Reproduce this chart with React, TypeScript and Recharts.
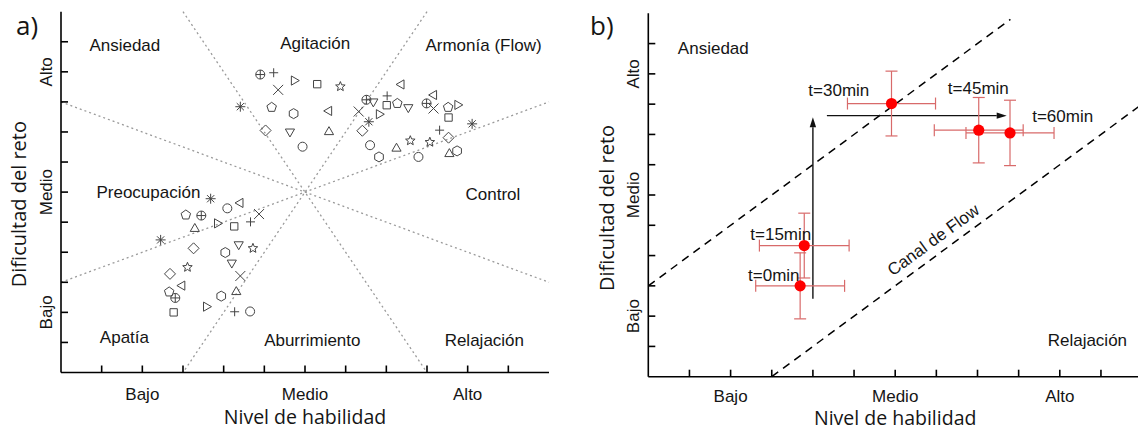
import React from "react";
import {
  ScatterChart,
  Scatter,
  XAxis,
  YAxis,
  ReferenceLine,
  ReferenceDot,
  ErrorBar,
  Label,
} from "recharts";

// shared axis scale: three qualitative levels on a 0..12 grid
const levelTicks = [1, 2, 3, 4, 5, 6, 7, 8, 9, 10, 11];
const levelValues = [2, 6, 10];
const levelNames = ["Bajo", "Medio", "Alto"];

// panel a) individual observations, one array per marker symbol [skill, challenge]
const circlePlusPts = [[4.9, 9.91], [7.51, 9.07], [8.99, 8.95], [3.45, 5.22], [2.81, 2.48]];
const plusPts = [[5.23, 9.97], [8.02, 9.2], [9.31, 8.06], [4.66, 5.01], [4.27, 2.02]];
const crossPts = [[5.34, 9.4], [7.32, 8.68], [9.16, 8.78], [4.87, 5.27], [4.41, 3.21]];
const triRightPts = [[5.73, 9.71], [7.82, 8.59], [9.75, 8.9], [3.84, 4.96], [3.57, 2.19]];
const squarePts = [[6.3, 9.59], [8.01, 8.89], [9.53, 8.48], [4.26, 4.86], [2.77, 2.0]];
const starPts = [[6.87, 9.51], [8.59, 7.71], [9.07, 7.66], [4.72, 4.13], [3.11, 3.5]];
const asteriskPts = [[4.41, 8.84], [7.57, 8.34], [10.11, 8.27], [3.68, 5.78], [2.45, 4.41]];
const pentagonPts = [[5.18, 8.82], [8.27, 8.95], [9.52, 8.82], [3.07, 5.24], [2.66, 2.68]];
const hexagonPts = [[5.72, 8.61], [7.82, 7.17], [9.74, 7.37], [4.04, 3.99], [3.94, 2.54]];
const triLeftPts = [[6.59, 8.7], [8.37, 9.58], [9.17, 9.23], [4.41, 5.64], [2.98, 2.89]];
const diamondPts = [[5.03, 8.05], [7.41, 8.04], [9.53, 7.81], [3.26, 4.13], [2.68, 3.28]];
const triDownPts = [[5.63, 8.01], [7.68, 9.01], [8.54, 8.82], [4.37, 4.26], [4.2, 3.65]];
const triUpPts = [[6.59, 8.0], [8.25, 7.45], [9.55, 7.27], [3.29, 4.78], [4.31, 2.68]];
const circlePts = [[5.94, 7.51], [7.6, 7.56], [8.79, 7.17], [4.09, 5.46], [4.65, 2.03]];

// panel a) region names and where they sit
const regionNamesA = ["Ansiedad", "Agitación", "Armonía (Flow)", "Preocupación", "Control", "Apatía", "Aburrimiento", "Relajación"];
const regionSkillA = [1.57, 6.25, 10.39, 2.15, 10.62, 1.56, 6.18, 10.41];
const regionChallengeA = [10.86, 10.95, 10.87, 5.98, 5.93, 1.17, 1.08, 1.08];

// panel a) the four sector boundaries through the centre
const sectorLines = [
  [[0, 9], [12, 3]],
  [[0, 3], [12, 9]],
  [[3, 12], [9, 0]],
  [[9, 12], [3, 0]],
];

// panel b) group means with error
const timeLabels = ["t=0min", "t=15min", "t=30min", "t=45min", "t=60min"];
const skillMean = [3.69, 3.79, 5.91, 8.03, 8.79];
const challengeMean = [3.0, 4.33, 9.02, 8.14, 8.05];
const skillErr = [1.08, 1.09, 1.07, 1.08, 1.07];
const challengeErr = [1.09, 1.07, 1.07, 1.08, 1.08];
const timeLabelSkill = [3.05, 3.22, 4.63, 8.02, 10.07];
const timeLabelChallenge = [3.33, 4.68, 9.45, 9.52, 8.59];

const regionNamesB = ["Ansiedad", "Relajación"];
const regionSkillB = [1.58, 10.67];
const regionChallengeB = [10.85, 1.18];

const channelLines = [
  [[0, 3], [8.8, 11.8]],
  [[3, 0], [12, 9]],
];
const arrows = [
  [[4.0, 2.57], [4.0, 8.57]],
  [[4.34, 8.62], [8.71, 8.62]],
];

const plainFont = '"Liberation Sans", Arial, sans-serif';
const titleFont = '"Open Sans", "Liberation Sans", sans-serif';
const ink = "#151515";
const markerInk = "#444";

const levelName = (v: number) => {
  const i = levelValues.indexOf(v);
  return i >= 0 ? levelNames[i] : "";
};

const BottomTick = (p: any) => {
  const name = levelName(p.payload.value);
  if (!name) return <g />;
  return (
    <text x={p.x} y={p.y} textAnchor="middle" dominantBaseline="central" fontFamily={plainFont} fontSize={17} fill={ink}>
      {name}
    </text>
  );
};

const LeftTick = (p: any) => {
  const name = levelName(p.payload.value);
  if (!name) return <g />;
  return (
    <text
      x={p.x}
      y={p.y}
      transform={`rotate(-90, ${p.x}, ${p.y})`}
      textAnchor="middle"
      dominantBaseline="central"
      fontFamily={plainFont}
      fontSize={17}
      fill={ink}
    >
      {name}
    </text>
  );
};

const polyPoints = (cx: number, cy: number, n: number, r: number, startDeg: number) =>
  Array.from({ length: n }, (_, i) => {
    const a = ((startDeg + (360 / n) * i) * Math.PI) / 180;
    return `${cx + r * Math.cos(a)},${cy + r * Math.sin(a)}`;
  }).join(" ");

const starPoints = (cx: number, cy: number, ro: number, ri: number) =>
  Array.from({ length: 10 }, (_, i) => {
    const a = ((-90 + 36 * i) * Math.PI) / 180;
    const r = i % 2 === 0 ? ro : ri;
    return `${cx + r * Math.cos(a)},${cy + r * Math.sin(a)}`;
  }).join(" ");

const markerShape = (kind: string) => (p: any) => {
  const { cx, cy } = p;
  const s = { fill: "none", stroke: markerInk, strokeWidth: 1 };
  switch (kind) {
    case "circle":
      return <circle cx={cx} cy={cy} r={4.5} {...s} />;
    case "circlePlus":
      return (
        <g {...s}>
          <circle cx={cx} cy={cy} r={4.5} />
          <path d={`M${cx - 4.5},${cy}H${cx + 4.5}M${cx},${cy - 4.5}V${cy + 4.5}`} />
        </g>
      );
    case "plus":
      return <path d={`M${cx - 4.5},${cy}H${cx + 4.5}M${cx},${cy - 4.5}V${cy + 4.5}`} {...s} />;
    case "cross":
      return <path d={`M${cx - 5},${cy - 5}L${cx + 5},${cy + 5}M${cx - 5},${cy + 5}L${cx + 5},${cy - 5}`} {...s} />;
    case "asterisk":
      return (
        <path
          d={`M${cx - 5},${cy}H${cx + 5}M${cx},${cy - 5}V${cy + 5}M${cx - 3.6},${cy - 3.6}L${cx + 3.6},${cy + 3.6}M${cx - 3.6},${cy + 3.6}L${cx + 3.6},${cy - 3.6}`}
          {...s}
        />
      );
    case "square":
      return <polygon points={polyPoints(cx, cy, 4, 5.2, 45)} {...s} />;
    case "diamond":
      return <polygon points={polyPoints(cx, cy, 4, 5.5, -90)} {...s} />;
    case "triUp":
      return <polygon points={polyPoints(cx, cy, 3, 5.3, -90)} {...s} />;
    case "triDown":
      return <polygon points={polyPoints(cx, cy, 3, 5.3, 90)} {...s} />;
    case "triLeft":
      return <polygon points={polyPoints(cx, cy, 3, 5.3, 180)} {...s} />;
    case "triRight":
      return <polygon points={polyPoints(cx, cy, 3, 5.3, 0)} {...s} />;
    case "pentagon":
      return <polygon points={polyPoints(cx, cy, 5, 5, -90)} {...s} />;
    case "hexagon":
      return <polygon points={polyPoints(cx, cy, 6, 5, -90)} {...s} />;
    case "star":
      return <polygon points={starPoints(cx, cy, 5, 2.2)} {...s} />;
    default:
      return <g />;
  }
};

const markerSets: [string, number[][]][] = [
  ["circlePlus", circlePlusPts],
  ["plus", plusPts],
  ["cross", crossPts],
  ["triRight", triRightPts],
  ["square", squarePts],
  ["star", starPts],
  ["asterisk", asteriskPts],
  ["pentagon", pentagonPts],
  ["hexagon", hexagonPts],
  ["triLeft", triLeftPts],
  ["diamond", diamondPts],
  ["triDown", triDownPts],
  ["triUp", triUpPts],
  ["circle", circlePts],
];

const textAt = (text: string, size = 17, rotate = 0) => (p: any) => (
  <text
    x={p.cx}
    y={p.cy}
    transform={rotate ? `rotate(${rotate}, ${p.cx}, ${p.cy})` : undefined}
    textAnchor="middle"
    dominantBaseline="central"
    fontFamily={plainFont}
    fontSize={size}
    fill={ink}
  >
    {text}
  </text>
);

const ArrowShape = (p: any) => {
  const { x1, y1, x2, y2 } = p;
  const ang = Math.atan2(y2 - y1, x2 - x1);
  const len = 10;
  const half = 3.2;
  const bx = x2 - len * Math.cos(ang);
  const by = y2 - len * Math.sin(ang);
  const pts = [
    [x2, y2],
    [bx + half * Math.sin(ang), by - half * Math.cos(ang)],
    [bx - half * Math.sin(ang), by + half * Math.cos(ang)],
  ]
    .map((q) => q.join(","))
    .join(" ");
  return (
    <g>
      <line x1={x1} y1={y1} x2={bx} y2={by} stroke="#111" strokeWidth={1.4} />
      <polygon points={pts} fill="#111" />
    </g>
  );
};

const axisStyle = { stroke: "#000", strokeWidth: 1.6 };

// frame axes (top + right) only carry inward ticks
const frameAxes = (key: string) => [
  <XAxis key={`${key}-t`} xAxisId="top" orientation="top" type="number" domain={[0, 12]} ticks={levelTicks} height={0} tickSize={-7} tick={false} allowDataOverflow {...axisStyle} />,
  <YAxis key={`${key}-r`} yAxisId="right" orientation="right" type="number" domain={[0, 12]} ticks={levelTicks} width={0} tickSize={-7} tick={false} allowDataOverflow {...axisStyle} />,
];

type PanelLayout = {
  width: number;
  plotLeft: number;
  plotTop: number;
  plotRight: number;
  plotBottom: number;
  yTickMargin: number;
  xTickMargin: number;
  xTitleDy: number;
  yTitleX: number;
  yTitleDy: number;
  letter: string;
  letterX: number;
};

const Axes = (L: PanelLayout) => [
  <XAxis
    key="x"
    type="number"
    dataKey="x"
    domain={[0, 12]}
    ticks={levelTicks}
    height={430 - L.plotBottom}
    tickSize={-7}
    tickMargin={L.xTickMargin}
    tick={BottomTick}
    allowDataOverflow
    {...axisStyle}
  >
    <Label
      content={(p: any) => {
        const vb = p.viewBox || {};
        return (
          <text x={vb.x + vb.width / 2} y={vb.y + L.xTitleDy} textAnchor="middle" dominantBaseline="central" fontFamily={titleFont} fontSize={19.5} fill={ink}>
            Nivel de habilidad
          </text>
        );
      }}
    />
  </XAxis>,
  <YAxis
    key="y"
    type="number"
    dataKey="y"
    domain={[0, 12]}
    ticks={levelTicks}
    width={L.plotLeft}
    tickSize={-7}
    tickMargin={L.yTickMargin}
    tick={LeftTick}
    allowDataOverflow
    {...axisStyle}
  >
    <Label
      content={(p: any) => {
        const vb = p.viewBox || {};
        const cx = vb.x + L.yTitleX;
        const cy = vb.y + vb.height / 2 + L.yTitleDy;
        return (
          <g>
            <text x={cx} y={cy} transform={`rotate(-90, ${cx}, ${cy})`} textAnchor="middle" dominantBaseline="central" fontFamily={titleFont} fontSize={20} fill={ink}>
              Dificultad del reto
            </text>
            <text x={vb.x + L.letterX} y={35} textAnchor="start" fontFamily={titleFont} fontSize={26} fill={ink}>
              {L.letter}
            </text>
          </g>
        );
      }}
    />
  </YAxis>,
];

const layoutA: PanelLayout = {
  width: 560,
  plotLeft: 61,
  plotTop: 11.7,
  plotRight: 549,
  plotBottom: 372.5,
  yTickMargin: 21.3,
  xTickMargin: 28.5,
  xTitleDy: 43.5,
  yTitleX: 19,
  yTitleDy: 12,
  letter: "a)",
  letterX: 16,
};

const layoutB: PanelLayout = {
  width: 560,
  plotLeft: 58.3,
  plotTop: 13.3,
  plotRight: 552.1,
  plotBottom: 376.7,
  yTickMargin: 22,
  xTickMargin: 26.4,
  xTitleDy: 41,
  yTitleX: 16,
  yTitleDy: 13,
  letter: "b)",
  letterX: 0,
};

function PanelA() {
  const L = layoutA;
  return (
    <ScatterChart width={L.width} height={430} margin={{ top: L.plotTop, right: L.width - L.plotRight, bottom: 0, left: 0 }}>
      {Axes(L)}
      {frameAxes("a")}
      {sectorLines.map((seg, i) => (
        <ReferenceLine
          key={`sec-${i}`}
          segment={[{ x: seg[0][0], y: seg[0][1] }, { x: seg[1][0], y: seg[1][1] }]}
          stroke="#9a9a9a"
          strokeWidth={1.3}
          strokeDasharray="2 3"
        />
      ))}
      {regionNamesA.map((name, i) => (
        <ReferenceDot key={`ra-${i}`} x={regionSkillA[i]} y={regionChallengeA[i]} r={0} ifOverflow="visible" shape={textAt(name)} />
      ))}
      {markerSets.map(([kind, pts]) => (
        <Scatter
          key={kind}
          name={kind}
          data={pts.map(([x, y]) => ({ x, y }))}
          shape={markerShape(kind)}
          isAnimationActive={false}
        />
      ))}
    </ScatterChart>
  );
}

const meanData = timeLabels.map((t, i) => ({
  label: t,
  x: skillMean[i],
  y: challengeMean[i],
  ex: skillErr[i],
  ey: challengeErr[i],
}));

function PanelB() {
  const L = layoutB;
  return (
    <ScatterChart width={L.width} height={430} margin={{ top: L.plotTop, right: L.width - L.plotRight, bottom: 0, left: 0 }}>
      {Axes(L)}
      {frameAxes("b")}
      {channelLines.map((seg, i) => (
        <ReferenceLine
          key={`ch-${i}`}
          segment={[{ x: seg[0][0], y: seg[0][1] }, { x: seg[1][0], y: seg[1][1] }]}
          stroke="#000"
          strokeWidth={1.5}
          strokeDasharray="8 6"
        />
      ))}
      {arrows.map((seg, i) => (
        <ReferenceLine
          key={`ar-${i}`}
          segment={[{ x: seg[0][0], y: seg[0][1] }, { x: seg[1][0], y: seg[1][1] }]}
          shape={ArrowShape}
        />
      ))}
      {regionNamesB.map((name, i) => (
        <ReferenceDot key={`rb-${i}`} x={regionSkillB[i]} y={regionChallengeB[i]} r={0} ifOverflow="visible" shape={textAt(name)} />
      ))}
      {timeLabels.map((t, i) => (
        <ReferenceDot key={`tl-${i}`} x={timeLabelSkill[i]} y={timeLabelChallenge[i]} r={0} ifOverflow="visible" shape={textAt(t)} />
      ))}
      <ReferenceDot x={6.93} y={4.51} r={0} ifOverflow="visible" shape={textAt("Canal de Flow", 17, -36)} />
      <Scatter
        name="media"
        data={meanData}
        isAnimationActive={false}
        shape={(p: any) => <circle cx={p.cx} cy={p.cy} r={5.6} fill="#ff0000" />}
      >
        <ErrorBar dataKey="ex" direction="x" width={6} stroke="#d86a6a" strokeWidth={1.2} />
        <ErrorBar dataKey="ey" direction="y" width={6} stroke="#d86a6a" strokeWidth={1.2} />
      </Scatter>
    </ScatterChart>
  );
}

export default function App() {
  return (
    <div style={{ position: "fixed", left: 0, top: 0, width: 1138, height: 430, overflow: "hidden", background: "#fff" }}>
      <div style={{ position: "absolute", left: 0, top: 0 }}>
        <PanelA />
      </div>
      <div style={{ position: "absolute", left: 590, top: 0 }}>
        <PanelB />
      </div>
    </div>
  );
}
